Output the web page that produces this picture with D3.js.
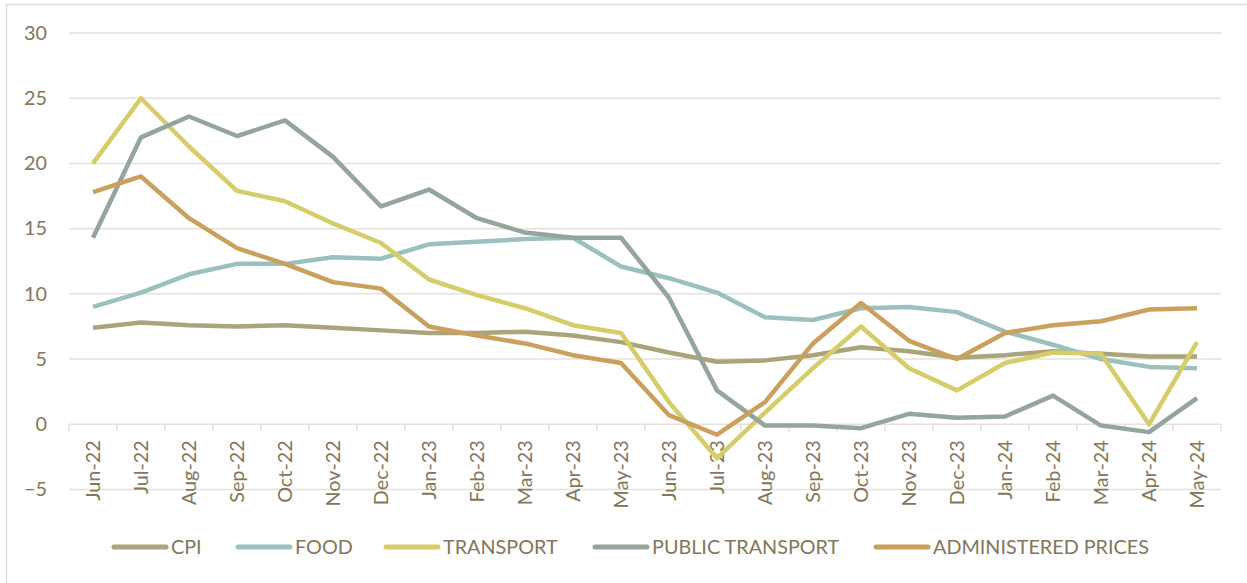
<!DOCTYPE html>
<html>
<head>
<meta charset="utf-8">
<script src="https://cdn.jsdelivr.net/npm/d3@7"></script>
<style>
  html, body { margin: 0; padding: 0; background: #fff; }
  svg { display: block; font-family: Lato, "Open Sans", sans-serif; }
</style>
</head>
<body>
<div id="chart"></div>
<script>
// --- data ---
const months = ["Jun-22","Jul-22","Aug-22","Sep-22","Oct-22","Nov-22","Dec-22","Jan-23","Feb-23","Mar-23","Apr-23","May-23",
                "Jun-23","Jul-23","Aug-23","Sep-23","Oct-23","Nov-23","Dec-23","Jan-24","Feb-24","Mar-24","Apr-24","May-24"];
const cpi       = [7.4, 7.8, 7.6, 7.5, 7.6, 7.4, 7.2, 7.0, 7.0, 7.1, 6.8, 6.3, 5.5, 4.8, 4.9, 5.3, 5.9, 5.6, 5.1, 5.3, 5.6, 5.4, 5.2, 5.2];
const food      = [9.0, 10.1, 11.5, 12.3, 12.3, 12.8, 12.7, 13.8, 14.0, 14.2, 14.3, 12.1, 11.2, 10.1, 8.2, 8.0, 8.9, 9.0, 8.6, 7.1, 6.1, 5.0, 4.4, 4.3];
const transport = [20.0, 25.0, 21.3, 17.9, 17.1, 15.4, 13.9, 11.1, 9.9, 8.9, 7.6, 7.0, 1.7, -2.6, 0.9, 4.3, 7.5, 4.3, 2.6, 4.7, 5.5, 5.4, 0.0, 6.3];
const publicTransport = [14.3, 22.0, 23.6, 22.1, 23.3, 20.5, 16.7, 18.0, 15.8, 14.7, 14.3, 14.3, 9.7, 2.6, -0.1, -0.1, -0.3, 0.8, 0.5, 0.6, 2.2, -0.1, -0.6, 2.0];
const administered = [17.8, 19.0, 15.8, 13.5, 12.3, 10.9, 10.4, 7.5, 6.8, 6.2, 5.3, 4.7, 0.7, -0.8, 1.7, 6.2, 9.3, 6.4, 5.0, 7.0, 7.6, 7.9, 8.8, 8.9];
const yTicks = [-5, 0, 5, 10, 15, 20, 25, 30];

const seriesNames = ["CPI", "FOOD", "TRANSPORT", "PUBLIC TRANSPORT", "ADMINISTERED PRICES"];
const seriesValues = [cpi, food, transport, publicTransport, administered];
const seriesColors = ["#a9a47c", "#9bc1be", "#d5cd69", "#93a59c", "#cb9f5c"];

// --- dims ---
const width = 1247, height = 583;
const plot = { left: 69, right: 1221, top: 33, bottom: 489.5 };
const textColor = "#83765a";
const gridColor = "#e6e2da";
const fontSize = "19.8px";

const svg = d3.select("#chart").append("svg")
  .attr("width", width).attr("height", height);

// outer chart border (cropped on right/bottom like the source)
svg.append("rect")
  .attr("x", 6.5).attr("y", 4.5)
  .attr("width", 1260).attr("height", 620)
  .attr("fill", "none")
  .attr("stroke", "#e2ddd2")
  .attr("stroke-width", 1.5);

const x = d3.scaleBand().domain(months).range([plot.left, plot.right]);
const y = d3.scaleLinear().domain([-5, 30]).range([plot.bottom, plot.top]);

// gridlines
svg.append("g")
  .selectAll("line")
  .data(yTicks)
  .join("line")
  .attr("x1", plot.left).attr("x2", plot.right)
  .attr("y1", d => y(d)).attr("y2", d => y(d))
  .attr("stroke", gridColor)
  .attr("stroke-width", 1.5);

// y labels
const yAxis = svg.append("g")
  .attr("transform", `translate(${plot.left - 22},0)`)
  .call(d3.axisLeft(y).tickValues(yTicks).tickSize(0).tickPadding(0));
yAxis.select(".domain").remove();
yAxis.selectAll("text")
  .attr("fill", textColor)
  .style("font-size", fontSize)
  .style("font-family", "Lato, 'Open Sans', sans-serif");

// x axis at zero: tick marks between categories
const bounds = months.map(m => x(m)).concat([plot.right]);
svg.append("g")
  .selectAll("line")
  .data(bounds)
  .join("line")
  .attr("x1", d => d).attr("x2", d => d)
  .attr("y1", y(0)).attr("y2", y(0) + 7)
  .attr("stroke", gridColor)
  .attr("stroke-width", 1.5);

// x labels, rotated
svg.append("g")
  .selectAll("text")
  .data(months)
  .join("text")
  .attr("transform", d => `translate(${x(d) + x.bandwidth() / 2 + 7},${y(0) + 16}) rotate(-90)`)
  .attr("text-anchor", "end")
  .attr("fill", textColor)
  .style("font-size", fontSize)
  .text(d => d);

// lines
const line = d3.line()
  .x((d, i) => x(months[i]) + x.bandwidth() / 2)
  .y(d => y(d));

svg.append("g")
  .selectAll("path")
  .data(seriesValues)
  .join("path")
  .attr("d", d => line(d))
  .attr("fill", "none")
  .attr("stroke", (d, i) => seriesColors[i])
  .attr("stroke-width", 4.5)
  .attr("stroke-linejoin", "round");

// legend
const legendX = [114, 238, 386, 595, 876];
const legendY = 547;
const lg = svg.append("g");
seriesNames.forEach((name, i) => {
  lg.append("line")
    .attr("x1", legendX[i]).attr("x2", legendX[i] + 52)
    .attr("y1", legendY).attr("y2", legendY)
    .attr("stroke", seriesColors[i])
    .attr("stroke-width", 5)
    .attr("stroke-linecap", "round");
  lg.append("text")
    .attr("x", legendX[i] + 57)
    .attr("y", legendY)
    .attr("dy", "0.35em")
    .attr("fill", textColor)
    .style("font-size", fontSize)
    .text(name);
});
</script>
</body>
</html>
